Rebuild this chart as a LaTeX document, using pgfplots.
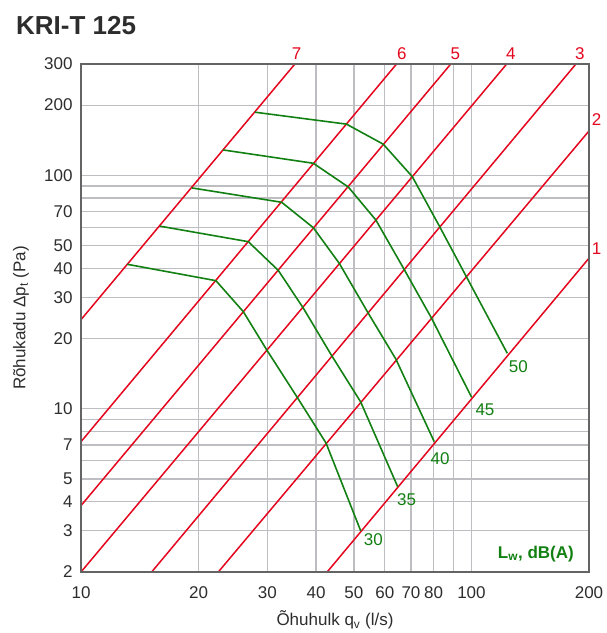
\documentclass[border=0pt]{standalone}
\usepackage{fontspec}
\setmainfont{Liberation Sans}
\usepackage{pgfplots}
\pgfplotsset{compat=1.18}

\definecolor{redline}{RGB}{228,6,30}
\definecolor{greenline}{RGB}{18,128,18}
\definecolor{gridgray}{RGB}{190,190,194}
\definecolor{framegray}{RGB}{100,100,100}
\definecolor{txt}{RGB}{45,45,45}
\newcommand\fs{\fontsize{17}{20}\selectfont}

\begin{document}
\begin{tikzpicture}
\path (-81pt,-61pt) rectangle (522pt,572pt);
\begin{axis}[
  at={(0,0)}, anchor=south west,
  width=508pt, height=508pt, scale only axis,
  xmode=log, ymode=log,
  xmin=10, xmax=200, ymin=2, ymax=300,
  xtick={10,20,30,40,50,60,70,80,90,100,200},
  xticklabels={10,20,30,40,50,60,70,80,,100,200},
  ytick={2,3,4,5,6,7,8,9,10,20,30,40,50,60,70,80,90,100,200,300},
  yticklabels={2,3,4,5,,7,,,10,20,30,40,50,,70,,,100,200,300},
  xminorticks=false, yminorticks=false,
  grid=major,
  major grid style={gridgray, line width=1.2pt},
  major tick length=0pt,
  axis line style={draw=none},
  ticklabel style={font=\fs, text=txt},
  xticklabel style={yshift=-11pt},
  yticklabel style={xshift=-5pt},
  clip mode=individual,
]
% pressure lines 1..7
\addplot[redline, line width=1.5pt] coordinates {(10,24.1) (35.3,300)};
\addplot[redline, line width=1.5pt] coordinates {(10,7.23) (64.3,300)};
\addplot[redline, line width=1.5pt] coordinates {(10,3.85) (88.5,300)};
\addplot[redline, line width=1.5pt] coordinates {(10,2) (123.1,300)};
\addplot[redline, line width=1.5pt] coordinates {(15.17,2) (185.2,300)};
\addplot[redline, line width=1.5pt] coordinates {(22.47,2) (200,155)};
\addplot[redline, line width=1.5pt] coordinates {(42.7,2) (200,44.2)};

% sound power curves
\addplot[greenline, line width=1.6pt] coordinates {
  (13.14,41.6) (22.16,35.4) (26.03,26.1) (29.89,17.9) (35.67,11.3) (42.41,7.14) (52.04,3.0)};
\addplot[greenline, line width=1.6pt] coordinates {
  (15.93,60.6) (26.82,52.0) (32.0,39.2) (37.1,27.0) (43.85,16.9) (52.04,10.7) (64.71,4.64)};
\addplot[greenline, line width=1.6pt] coordinates {
  (19.21,88.4) (32.66,76.7) (39.35,59.7) (45.86,42.0) (54.4,25.7) (64.07,16.3) (80.3,7.23)};
\addplot[greenline, line width=1.6pt] coordinates {
  (23.14,128.5) (39.35,112.7) (48.36,89.2) (56.93,64.3) (67.16,39.7) (79.08,24.4) (100.1,11.2)};
\addplot[greenline, line width=1.6pt] coordinates {
  (27.9,186.5) (47.85,165.8) (59.45,136.0) (70.53,98.8) (82.9,60.3) (96.8,37.1) (123.5,17.3)};

\draw[framegray, line width=2.2pt] (rel axis cs:0,0) rectangle (rel axis cs:1,1);

\begin{scope}[every node/.style={font=\fs, text=redline}]
\node at (axis cs:35.67,333) {7};
\node at (axis cs:66.3,333) {6};
\node at (axis cs:90.9,333) {5};
\node at (axis cs:126.2,333) {4};
\node at (axis cs:189.6,333) {3};
\node at (axis cs:209.2,172.8) {2};
\node at (axis cs:209.2,48.7) {1};
\end{scope}
\begin{scope}[every node/.style={font=\fs, text=greenline}]
\node at (axis cs:56.04,2.74) {30};
\node at (axis cs:68.2,4.10) {35};
\node at (axis cs:83.1,6.14) {40};
\node at (axis cs:108.3,9.89) {45};
\node at (axis cs:131.8,15.16) {50};
\end{scope}
\end{axis}
\node[anchor=base west, inner sep=0pt, text=txt, font=\bfseries\fontsize{26}{30}\selectfont] at (-65pt,537pt) {KRI-T 125};
\node[rotate=90, text=txt, font=\fs] at (-60pt,254pt) {Rõhukadu Δp\textsubscript{t} (Pa)};
\node[text=txt, font=\fs] at (254pt,-48pt) {Õhuhulk q\textsubscript{v} (l/s)};
\node[anchor=south east, inner sep=0pt, text=greenline, font=\bfseries\fontsize{17}{20}\selectfont] at (493pt,10pt) {L\textsubscript{w}, dB(A)};
\end{tikzpicture}
\end{document}
